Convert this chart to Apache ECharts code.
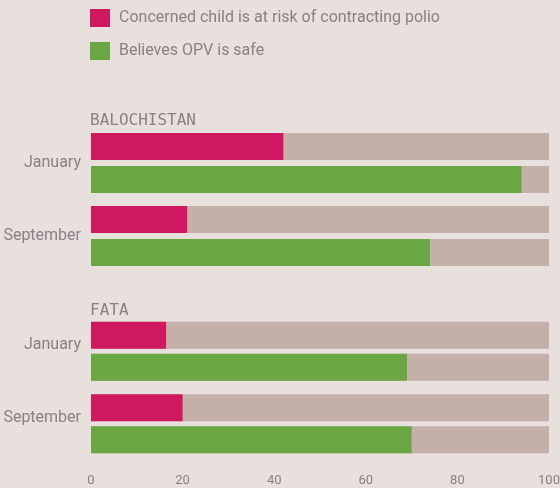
<!DOCTYPE html>
<html>
<head>
<meta charset="utf-8">
<script src="https://cdn.jsdelivr.net/npm/echarts@6/dist/echarts.min.js"></script>
<style>
  html, body { margin: 0; padding: 0; background: #e7e0dc; }
  #chart { width: 560px; height: 488px; }
</style>
</head>
<body>
<div id="chart"></div>
<script>
// Survey shares (%) by region and survey month
const months = ['January', 'September'];
const regionNames = ['BALOCHISTAN', 'FATA'];
const seriesNames = ['Concerned child is at risk of contracting polio', 'Believes OPV is safe'];
const balochistanConcerned = [42, 21];
const balochistanSafe = [94, 74];
const fataConcerned = [16.4, 20];
const fataSafe = [69, 70];
const xTicks = [0, 20, 40, 60, 80, 100];

const PINK = '#d01860';
const GREEN = '#6aa644';
const TRACK = '#c5b0a9';
const TEXT = '#898083';
const FONT = 'Roboto, "Noto Sans", sans-serif';
const MONO = '"DejaVu Sans Mono", monospace';

const chart = echarts.init(document.getElementById('chart'), null, { renderer: 'canvas' });

const grids = [
  { left: 91, right: 11, top: 126.5, height: 146, outerBoundsMode: 'none' },
  { left: 91, right: 11, top: 315, height: 145, outerBoundsMode: 'none' }
];

function yAxis(gridIndex, align, lh) {
  return {
    type: 'category', gridIndex, data: months, inverse: true,
    axisLine: { show: false }, axisTick: { show: false },
    axisLabel: { color: TEXT, fontFamily: FONT, fontSize: 16, margin: 10, verticalAlign: align, lineHeight: lh }
  };
}
function xAxis(gridIndex, showLabels) {
  return {
    type: 'value', gridIndex, min: 0, max: 100, interval: 20,
    splitLine: { show: false }, axisLine: { show: false }, axisTick: { show: false },
    axisLabel: {
      show: showLabels, color: TEXT, fontFamily: FONT, fontSize: 13, margin: 14,
      formatter: v => xTicks.includes(v) ? String(v) : ''
    }
  };
}
function bar(name, data, color, idx, gap) {
  return {
    name, type: 'bar', data, xAxisIndex: idx, yAxisIndex: idx,
    barWidth: 27, barGap: gap,
    itemStyle: { color },
    showBackground: true,
    backgroundStyle: { color: TRACK },
    silent: true
  };
}

chart.setOption({
  backgroundColor: '#e7e0dc',
  animation: false,
  legend: {
    left: 90, top: 9, orient: 'vertical', padding: 0,
    itemWidth: 20, itemHeight: 18, itemGap: 15,
    selectedMode: false,
    icon: 'rect',
    textStyle: { color: TEXT, fontFamily: FONT, fontSize: 16, padding: [2, 0, 0, 4] },
    data: seriesNames
  },
  title: [
    { text: regionNames[0], left: 90, top: 113, padding: 0, textStyle: { color: TEXT, fontFamily: MONO, fontSize: 16, fontWeight: 'normal' } },
    { text: regionNames[1], left: 90, top: 303, padding: 0, textStyle: { color: TEXT, fontFamily: MONO, fontSize: 16, fontWeight: 'normal' } }
  ],
  grid: grids,
  xAxis: [xAxis(0, false), xAxis(1, true)],
  yAxis: [yAxis(0, 'middle', 18), yAxis(1, 'bottom', 12)],
  series: [
    bar(seriesNames[0], balochistanConcerned, PINK, 0, '22%'),
    bar(seriesNames[1], balochistanSafe, GREEN, 0, '22%'),
    bar(seriesNames[0], fataConcerned, PINK, 1, '18%'),
    bar(seriesNames[1], fataSafe, GREEN, 1, '18%')
  ]
});
</script>
</body>
</html>
